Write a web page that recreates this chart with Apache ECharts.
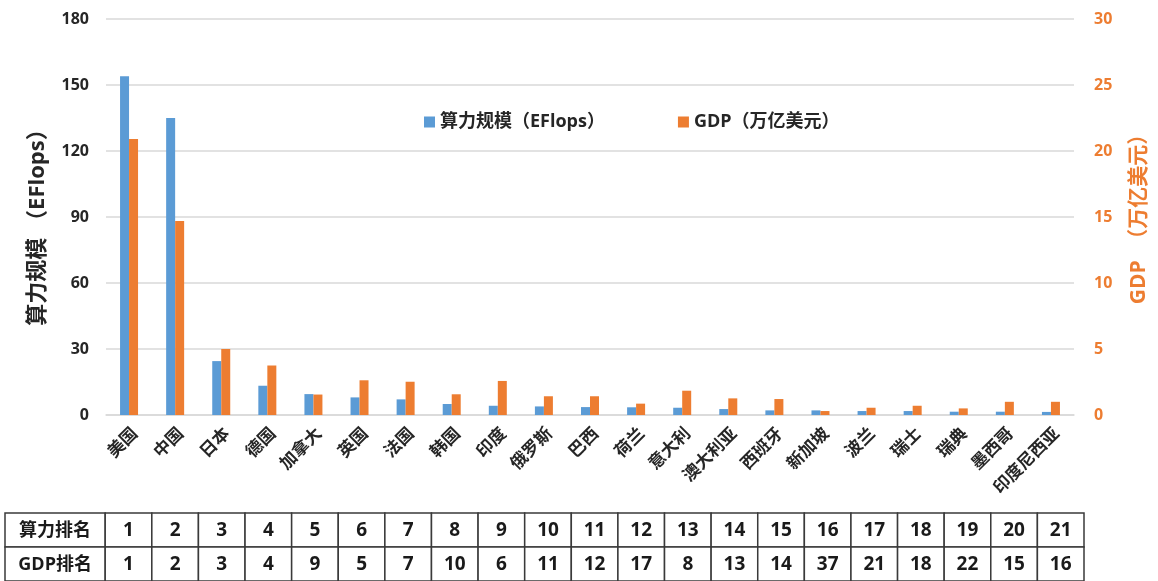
<!DOCTYPE html>
<html>
<head>
<meta charset="utf-8">
<script src="https://cdn.jsdelivr.net/npm/echarts@6/dist/echarts.min.js"></script>
<style>
html,body{margin:0;padding:0;background:#fff;}
#chart{width:1158px;height:581px;}
</style>
</head>
<body>
<div id="chart"></div>
<script>
const categories = ['美国','中国','日本','德国','加拿大','英国','法国','韩国','印度','俄罗斯','巴西','荷兰','意大利','澳大利亚','西班牙','新加坡','波兰','瑞士','瑞典','墨西哥','印度尼西亚'];
const computingPower = [154, 135, 24.5, 13.3, 9.5, 8.0, 7.1, 5.0, 4.2, 3.9, 3.6, 3.5, 3.3, 2.7, 2.1, 2.1, 1.8, 1.8, 1.5, 1.5, 1.4];
const gdp = [20.9, 14.7, 5.0, 3.75, 1.55, 2.63, 2.52, 1.57, 2.58, 1.42, 1.42, 0.86, 1.84, 1.26, 1.21, 0.3, 0.55, 0.7, 0.5, 1.0, 1.0];
const powerRank = [1,2,3,4,5,6,7,8,9,10,11,12,13,14,15,16,17,18,19,20,21];
const gdpRank = [1,2,3,4,9,5,7,10,6,11,12,17,8,13,14,37,21,18,22,15,16];
const rowLabels = ['算力排名','GDP排名'];
const leftTicks = {min:0, max:180, interval:30};
const rightTicks = {min:0, max:30, interval:5};

const FONT = "'Open Sans','Noto Sans CJK SC',sans-serif";
const BLUE = '#5B9BD5', ORANGE = '#ED7D31';
const headerSpan = 2.15;

const tableData = [];
[powerRank, gdpRank].forEach((arr, r) => {
  tableData.push([-1, r, 0]);
  arr.forEach((v, i) => tableData.push([i, r, v]));
});

const chart = echarts.init(document.getElementById('chart'), null, {renderer:'canvas'});
chart.setOption({
  backgroundColor:'#fff',
  animation:false,
  textStyle:{fontFamily:FONT},
  legend:{
    left:419, top:108, itemWidth:11, itemHeight:11, itemGap:73, icon:'rect',
    textStyle:{fontFamily:FONT, fontSize:18, fontWeight:'bold', color:'#262626'},
    data:['算力规模（EFlops）','GDP（万亿美元）']
  },
  grid:[
    {left:106, right:77, top:19, bottom:166},
    {left:5, right:74, top:513, height:69}
  ],
  xAxis:[
    {type:'category', gridIndex:0, data:categories,
     axisTick:{show:false},
     axisLine:{lineStyle:{color:'#d9d9d9', width:1.5}},
     axisLabel:{rotate:45, margin:10, interval:0, verticalAlign:'top', fontFamily:FONT, fontSize:17, fontWeight:'bold', color:'#262626'}},
    {type:'value', gridIndex:1, min:0, max:headerSpan + categories.length, show:false}
  ],
  yAxis:[
    {type:'value', gridIndex:0, min:leftTicks.min, max:leftTicks.max, interval:leftTicks.interval,
     name:'算力规模 （EFlops）', nameLocation:'middle', nameRotate:90, nameGap:57,
     nameTextStyle:{fontFamily:FONT, fontSize:22, fontWeight:'bold', color:'#262626', padding:[0,10,0,0]},
     axisLine:{show:false}, axisTick:{show:false},
     axisLabel:{margin:17, fontFamily:FONT, fontSize:16, fontWeight:'bold', color:'#262626'},
     splitLine:{lineStyle:{color:'#d9d9d9', width:1.5}}},
    {type:'value', gridIndex:0, position:'right', min:rightTicks.min, max:rightTicks.max, interval:rightTicks.interval,
     name:'GDP　（万亿美元）', nameLocation:'middle', nameRotate:90, nameGap:55,
     nameTextStyle:{fontFamily:FONT, fontSize:21, fontWeight:'bold', color:ORANGE, padding:[0,0,0,6]},
     axisLine:{show:false}, axisTick:{show:false},
     axisLabel:{margin:20, fontFamily:FONT, fontSize:16, fontWeight:'bold', color:ORANGE},
     splitLine:{show:false}},
    {type:'category', gridIndex:1, data:rowLabels, inverse:true, show:false}
  ],
  series:[
    {name:'算力规模（EFlops）', type:'bar', xAxisIndex:0, yAxisIndex:0, data:computingPower,
     barWidth:9, barGap:'0%', itemStyle:{color:BLUE}},
    {name:'GDP（万亿美元）', type:'bar', xAxisIndex:0, yAxisIndex:1, data:gdp,
     barWidth:9, barGap:'0%', itemStyle:{color:ORANGE}},
    {type:'custom', xAxisIndex:1, yAxisIndex:2, clip:false, silent:true,
     data:tableData,
     renderItem:function(params, api){
       const col = api.value(0), row = api.value(1);
       const start = col < 0 ? 0 : headerSpan + col;
       const end = col < 0 ? headerSpan : headerSpan + col + 1;
       const p0 = api.coord([start, row]);
       const p1 = api.coord([end, row]);
       const h = api.size([0, 1])[1];
       const text = col < 0 ? rowLabels[row] : String(api.value(2));
       const fs = col < 0 ? 18 : 19;
       return {
         type:'group',
         children:[
           {type:'rect', shape:{x:p0[0], y:p0[1]-h/2, width:p1[0]-p0[0], height:h},
            style:{fill:'#fff', stroke:'#3a3a3a', lineWidth:1.5}},
           {type:'text', style:{text:text, x:(p0[0]+p1[0])/2, y:p0[1]+1,
            align:'center', verticalAlign:'middle', textAlign:'center', textVerticalAlign:'middle',
            font:'bold '+fs+'px '+FONT, fill:'#1a1a1a'}}
         ]
       };
     }}
  ]
});
</script>
</body>
</html>
